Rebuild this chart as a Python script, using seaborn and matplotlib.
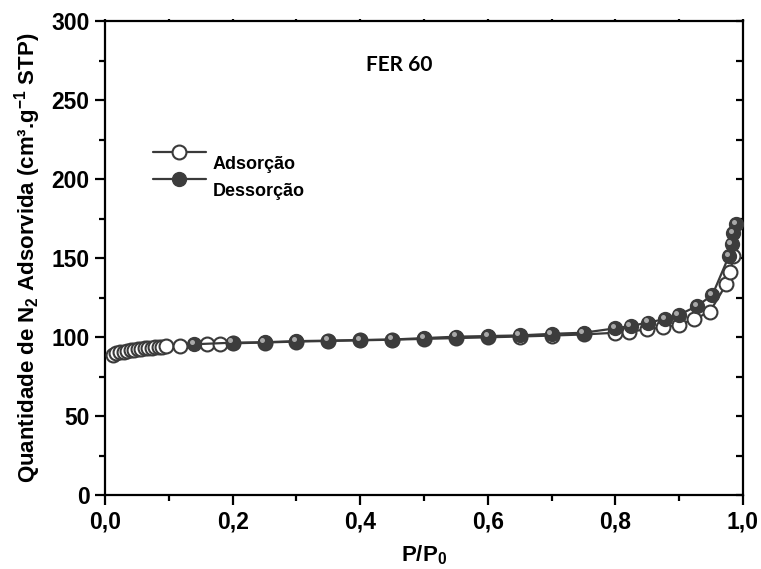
import numpy as np
import pandas as pd
import seaborn as sns
import matplotlib
matplotlib.use("Agg")
import matplotlib.pyplot as plt
from matplotlib.ticker import MultipleLocator, FuncFormatter
from matplotlib.transforms import ScaledTranslation, offset_copy
from matplotlib.lines import Line2D

# N2 isotherm, FER 60
ads_p = [0.012, 0.018, 0.023, 0.029, 0.034, 0.040, 0.045, 0.051, 0.057, 0.062,
         0.068, 0.073, 0.079, 0.084, 0.090, 0.096, 0.118, 0.160, 0.180, 0.200,
         0.250, 0.300, 0.350, 0.400, 0.450, 0.500, 0.550, 0.600, 0.650, 0.700,
         0.750, 0.800, 0.822, 0.850, 0.875, 0.899, 0.923, 0.948, 0.974, 0.980,
         0.985]
ads_q = [88.6, 89.6, 90.3, 90.8, 91.3, 91.7, 92.0, 92.3, 92.6, 92.8,
         93.0, 93.2, 93.4, 93.6, 93.8, 94.0, 94.4, 95.3, 95.6, 96.0,
         96.5, 97.1, 97.5, 97.9, 98.3, 98.8, 99.3, 99.8, 100.3, 100.9,
         101.6, 102.7, 103.4, 104.9, 106.1, 107.6, 111.2, 116.0, 133.5, 141.3,
         151.3]

des_p = [0.989, 0.985, 0.982, 0.978, 0.952, 0.928, 0.899, 0.878, 0.851, 0.824,
         0.800, 0.750, 0.700, 0.650, 0.600, 0.550, 0.500, 0.450, 0.400, 0.350,
         0.300, 0.250, 0.200, 0.140]
des_q = [171.3, 165.6, 158.7, 151.3, 126.6, 119.6, 113.9, 111.4, 109.1, 107.0,
         105.5, 102.7, 102.0, 101.0, 100.6, 100.2, 99.3, 98.4, 98.1, 97.7,
         97.4, 96.7, 96.4, 95.4]

x_ticks = [0.0, 0.2, 0.4, 0.6, 0.8, 1.0]
y_ticks = [0, 50, 100, 150, 200, 250, 300]

sns.set_theme(style="ticks")
plt.rcParams["font.family"] = ["Liberation Sans", "DejaVu Sans"]
plt.rcParams["font.weight"] = "bold"
plt.rcParams["text.color"] = "black"
plt.rcParams["axes.labelcolor"] = "black"
plt.rcParams["mathtext.fontset"] = "custom"
plt.rcParams["mathtext.rm"] = "Liberation Sans:bold"
plt.rcParams["mathtext.bf"] = "Liberation Sans:bold"
plt.rcParams["mathtext.it"] = "Liberation Sans:bold"
plt.rcParams["mathtext.default"] = "bf"

ads = pd.DataFrame({"p": ads_p, "q": ads_q})
des = pd.DataFrame({"p": des_p, "q": des_q})

fig = plt.figure(figsize=(7.61, 5.69), dpi=100)
ax = fig.add_axes([105 / 761, 1 - 495 / 569, 638 / 761, 474 / 569])

line_c = "#3a3a3a"
ball_c = "#3c3c3c"
ms = 10

sns.lineplot(data=ads, x="p", y="q", ax=ax, sort=False, color=line_c, lw=1.6,
             marker="o", markersize=ms, markerfacecolor="white",
             markeredgecolor=line_c, markeredgewidth=1.5, zorder=3)
sns.lineplot(data=des, x="p", y="q", ax=ax, sort=False, color=line_c, lw=1.6,
             marker="o", markersize=ms, markerfacecolor=ball_c,
             markeredgecolor=ball_c, markeredgewidth=1.0, zorder=4)
# specular highlight on the filled spheres
hl = offset_copy(ax.transData, fig=fig, x=-1.6, y=1.6, units="points")
ax.plot(des["p"], des["q"], ls="none", marker="o", markersize=3.6,
        markerfacecolor="#a8a8a8", markeredgecolor="none", transform=hl, zorder=5)

ax.set_xlim(0, 1.0)
ax.set_ylim(0, 300)
ax.xaxis.set_minor_locator(MultipleLocator(0.1))
ax.yaxis.set_minor_locator(MultipleLocator(25))
ax.set_xticks(x_ticks)
ax.set_yticks(y_ticks)
ax.xaxis.set_major_formatter(FuncFormatter(lambda v, _: f"{v:.1f}".replace(".", ",")))
ax.yaxis.set_major_formatter(FuncFormatter(lambda v, _: f"{v:.0f}"))

for s in ax.spines.values():
    s.set_linewidth(1.6)
    s.set_color("black")
ax.tick_params(which="major", direction="out", length=7, width=1.6, color="black",
               labelsize=16.5, pad=4, labelcolor="black")
ax.tick_params(which="minor", direction="out", length=4, width=1.6, color="black")
ax.tick_params(which="both", right=True, top=True)
# inward ticks on the right spine, tiny marks on the top spine
for tl in ax.yaxis.get_majorticklines()[1::2] + ax.yaxis.get_minorticklines()[1::2]:
    tl.set_marker(0)
    tl.set_markersize(5)
for tl in ax.xaxis.get_majorticklines()[1::2] + ax.xaxis.get_minorticklines()[1::2]:
    tl.set_markersize(1.5)
for lab in ax.get_xticklabels() + ax.get_yticklabels():
    lab.set_fontweight("bold")

ax.set_xlabel("P/P$_{0}$", fontsize=16, fontweight="bold", labelpad=7)
ax.set_ylabel("Quantidade de N$_{2}$ Adsorvida (cm³.g$^{-1}$ STP)", fontsize=16,
              fontweight="bold", labelpad=6)

ax.text(0.4616, 272, "FER 60", transform=ax.transData,
        ha="center", va="center", fontsize=15, fontweight="bold",
        family=["Lato", "DejaVu Sans"], color="black")

handles = [
    Line2D([], [], color=line_c, lw=1.6, marker="o", markersize=ms,
           markerfacecolor="white", markeredgecolor=line_c, markeredgewidth=1.5),
    Line2D([], [], color=line_c, lw=1.6, marker="o", markersize=ms,
           markerfacecolor=ball_c, markeredgecolor=ball_c),
]
leg = ax.legend(handles, ["Adsorção", "Dessorção"], loc="upper left",
                bbox_to_anchor=(0.05, 0.772), frameon=False, handlelength=2.9,
                handletextpad=0.4, labelspacing=0.55, prop={"size": 13, "weight": "bold"})
for t in leg.get_texts():
    t.set_color("black")
    t.set_transform(t.get_transform() + ScaledTranslation(0, -8 / 72, fig.dpi_scale_trans))

fig.savefig("out.png", dpi=100)
